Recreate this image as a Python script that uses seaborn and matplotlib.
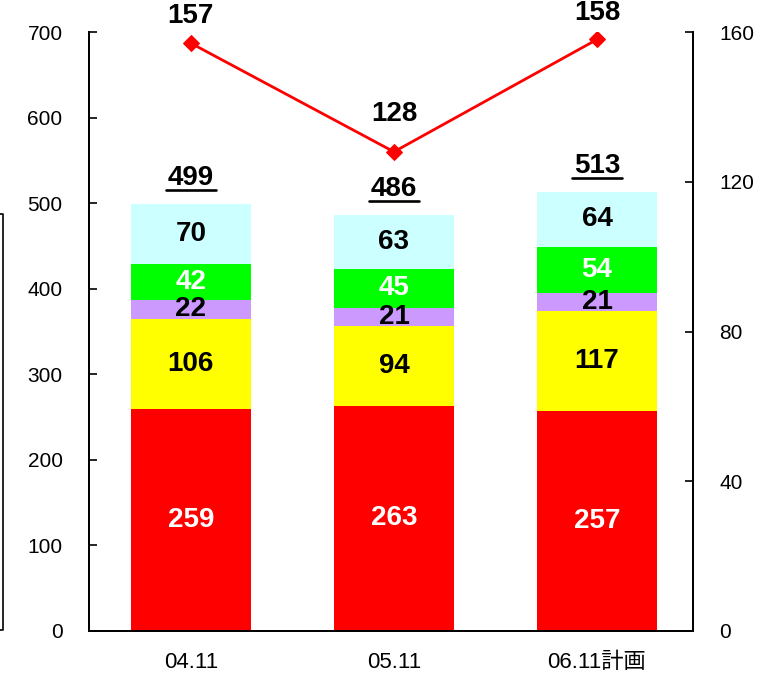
import matplotlib
matplotlib.use("Agg")
import matplotlib.pyplot as plt
from matplotlib.lines import Line2D
import seaborn as sns
import pandas as pd
import numpy as np

# ---- data ----
periods = ["04.11", "05.11", "06.11計画"]
seg_red = [259, 263, 257]
seg_yellow = [106, 94, 117]
seg_purple = [22, 21, 21]
seg_green = [42, 45, 54]
seg_cyan = [70, 63, 64]
line_vals = [157, 128, 158]

left_ticks = [0, 100, 200, 300, 400, 500, 600, 700]
right_ticks = [0, 40, 80, 120, 160]

# ---- styling ----
sns.set_theme(style="white")
plt.rcParams["font.family"] = ["Liberation Sans", "Noto Sans CJK JP", "DejaVu Sans"]

layers = [
    (seg_red, "#FF0000", "white"),
    (seg_yellow, "#FFFF00", "black"),
    (seg_purple, "#CC99FF", "black"),
    (seg_green, "#00FF00", "white"),
    (seg_cyan, "#CCFFFF", "black"),
]

W, H = 761, 676
fig = plt.figure(figsize=(W / 100, H / 100), dpi=100)
ax = fig.add_axes([89 / W, 45 / H, 604 / W, 599 / H])

# cumulative stacks
seg_vals = np.array([l[0] for l in layers])
tops = np.cumsum(seg_vals, axis=0)
bottoms = tops - seg_vals

# draw tallest stack first, smaller stacks painted over it
for k in range(len(layers) - 1, -1, -1):
    df = pd.DataFrame({"period": periods, "value": tops[k]})
    sns.barplot(data=df, x="period", y="value", order=periods, color=layers[k][1],
                saturation=1, width=0.59, linewidth=0, edgecolor="none", ax=ax)

LABEL_FS = 20

# segment labels
for k, (vals, col, tcol) in enumerate(layers):
    for i, v in enumerate(vals):
        ax.text(i, (bottoms[k][i] + tops[k][i]) / 2, str(v), ha="center", va="center",
                fontsize=LABEL_FS, fontweight="bold", color=tcol)

# totals above bars
totals = tops[-1]
total_texts = []
for i, t in enumerate(totals):
    txt = ax.annotate(str(t), xy=(i, t), xytext=(0, 19), textcoords="offset points",
                      ha="center", va="center", fontsize=LABEL_FS, fontweight="bold",
                      color="black")
    total_texts.append(txt)

ax.set_ylim(0, 700)
ax.set_yticks(left_ticks)
ax.set_xlim(-0.502, 2.473)
ax.set_xlabel("")
ax.set_ylabel("")

# secondary axis with line
ax2 = ax.twinx()
line_df = pd.DataFrame({"pos": np.arange(len(periods)), "value": line_vals})
sns.lineplot(data=line_df, x="pos", y="value", ax=ax2, color="#FF0000", linewidth=2,
             marker="D", markersize=8, markeredgecolor="#FF0000", markerfacecolor="#FF0000")
ax2.set_ylim(0, 160)
ax2.set_yticks(right_ticks)
ax2.set_xlim(-0.502, 2.473)
ax2.set_ylabel("")
ax2.set_xlabel("")

line_label_lift = [27, 38, 26]
for i, v in enumerate(line_vals):
    ax2.annotate(str(v), xy=(i, v), xytext=(0, line_label_lift[i] * 72 / 100),
                 textcoords="offset points", ha="center", va="center",
                 fontsize=LABEL_FS, fontweight="bold", color="black")

# axes cosmetics
for a in (ax, ax2):
    a.spines["top"].set_visible(False)
    for s in ("left", "right", "bottom"):
        a.spines[s].set_color("black")
        a.spines[s].set_linewidth(1.3)
    a.grid(False)

ax.tick_params(axis="y", direction="in", length=6, width=1.2, pad=19, labelsize=15,
               colors="black", left=True)
ax.tick_params(axis="x", length=0, pad=15, labelsize=16, colors="black")
ax2.tick_params(axis="y", direction="in", length=6, width=1.2, pad=19, labelsize=15,
                colors="black", right=True)
ax2.tick_params(axis="x", bottom=False, labelbottom=False)

# underline totals
fig.canvas.draw()
renderer = fig.canvas.get_renderer()
for txt in total_texts:
    bb = txt.get_window_extent(renderer)
    y = bb.y0 + 0.5
    fig.add_artist(Line2D([(bb.x0 - 2) / W, (bb.x1 + 2) / W], [y / H, y / H],
                          color="black", linewidth=1.9))

# edge of a neighbouring frame at the far left
fig.add_artist(Line2D([0, 3 / W, 3 / W, 0],
                      [(H - 214) / H, (H - 214) / H, (H - 630) / H, (H - 630) / H],
                      color="black", linewidth=1.2))

fig.savefig("out.png", dpi=100)
